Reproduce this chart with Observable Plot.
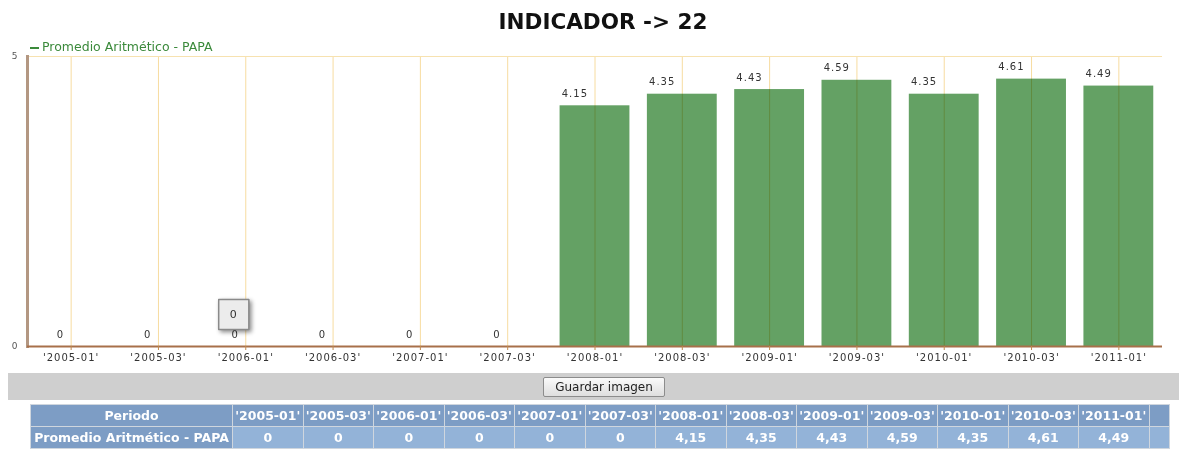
<!DOCTYPE html>
<html>
<head>
<meta charset="utf-8">
<script src="https://cdn.jsdelivr.net/npm/d3@7"></script>
<script src="https://cdn.jsdelivr.net/npm/@observablehq/plot@0.6"></script>
<style>
  html, body { margin: 0; padding: 0; background: #fff; }
  #wrap { position: relative; width: 1179px; height: 451px; overflow: hidden; font-family: "DejaVu Sans", Verdana, sans-serif; }
  #title { position: absolute; top: 9px; left: 603px; transform: translateX(-50%); font-size: 21.5px; font-weight: bold; color: #111; white-space: nowrap; }
  #legend { position: absolute; top: 40px; left: 30px; font-size: 12.5px; color: #3b8a3b; white-space: nowrap; line-height: 14px; }
  #legend .sw { display: inline-block; width: 9px; height: 2px; background: #3b8a3b; vertical-align: middle; margin-right: 3px; }
  #chart { position: absolute; top: 0; left: 0; }
  #bar { position: absolute; top: 373px; left: 8px; width: 1171px; height: 27px; background: #cfcfcf; }
  #btn { position: absolute; top: 377px; left: 543px; width: 120px; height: 18px; border: 1px solid #8c8c8c; border-radius: 2px; background: linear-gradient(#fafafa, #dedede); font-size: 12px; color: #222; text-align: center; line-height: 18px; box-sizing: content-box; }
  #tbl { position: absolute; top: 404px; left: 30px; border-collapse: collapse; table-layout: fixed; }
  #tbl td { height: 21px; padding: 0; border: 1px solid #cfd6de; color: #fff; font-weight: bold; font-size: 12.5px; text-align: center; white-space: nowrap; overflow: hidden; }
  #tbl tr.h td { background: #7d9dc5; }
  #tbl tr.d td { background: #93b3d8; }
  #tbl tr.d td.first { background: #7d9dc5; }
</style>
</head>
<body>
<div id="wrap">
  <div id="title"></div>
  <div id="legend"><span class="sw"></span><span id="legtext"></span></div>
  <div id="chart"></div>
  <div id="bar"></div>
  <div id="btn">Guardar imagen</div>
  <table id="tbl"></table>
</div>
<script>
const chartTitle = "INDICADOR -> 22";
const seriesName = "Promedio Aritmético - PAPA";
const tableHeader = "Periodo";
const periods = ["'2005-01'", "'2005-03'", "'2006-01'", "'2006-03'", "'2007-01'", "'2007-03'", "'2008-01'", "'2008-03'", "'2009-01'", "'2009-03'", "'2010-01'", "'2010-03'", "'2011-01'"];
const values = [0, 0, 0, 0, 0, 0, 4.15, 4.35, 4.43, 4.59, 4.35, 4.61, 4.49];
const yTicks = [0, 5];
const tooltipPeriod = "'2006-01'";

const data = periods.map((p, i) => ({period: p, value: values[i]}));
const tooltipData = data.filter(d => d.period === tooltipPeriod);
const fmt = v => v === 0 ? "0" : v.toFixed(2);

document.getElementById("title").textContent = chartTitle;
document.getElementById("legtext").textContent = seriesName;

const svg = Plot.plot({
  width: 1179,
  height: 372,
  marginTop: 56,
  marginBottom: 26,
  marginLeft: 27,
  marginRight: 17,
  style: {fontFamily: "DejaVu Sans, Verdana, sans-serif", fontSize: "10px", letterSpacing: "1px", background: "transparent", overflow: "visible"},
  x: {domain: periods, paddingInner: 0.2, paddingOuter: 0.1, round: false, label: null, axis: null},
  y: {domain: [0, 5], label: null, axis: null},
  marks: [
    Plot.barY(data, {x: "period", y: "value", fill: "#64a164"}),
    Plot.ruleX(periods, {x: d => d, y1: 0, y2: 5, stroke: "#f7dca0", mixBlendMode: "multiply"}),
    Plot.ruleY([5], {stroke: "#f7e2b0"}),
    Plot.frame({anchor: "left", stroke: "#b39782", strokeWidth: 3}),
    Plot.ruleY([0], {stroke: "#a8704a", strokeWidth: 2}),
    Plot.axisX({tickSize: 4, tickPadding: 3, stroke: "#c08a50", fill: "#333", fontSize: 10}),
    Plot.axisY({ticks: yTicks, tickFormat: d3.format("d"), tickSize: 0, tickPadding: 9, fill: "#555", fontSize: 9}),
    Plot.text(data, {x: "period", y: "value", text: d => fmt(d.value), textAnchor: "end", dx: -7, dy: -12, fill: "#333", fontSize: 10}),
    Plot.dot(tooltipData, {x: "period", y: "value", symbol: "square", r: 17, fill: "#ececec", stroke: "#8a8a8a", strokeWidth: 1.5, strokeLinejoin: "round", dx: -12, dy: -32}),
    Plot.text(tooltipData, {x: "period", y: "value", text: d => fmt(d.value), dx: -12, dy: -32, fill: "#333", fontSize: 11})
  ]
});
document.getElementById("chart").appendChild(svg);
d3.select(svg).selectAll("g[aria-label=dot]").style("filter", "drop-shadow(2px 2px 2px rgba(0,0,0,0.45))");

// table
const tbl = d3.select("#tbl");
const cg = tbl.append("colgroup");
cg.append("col").style("width", "202px");
periods.forEach(() => cg.append("col").style("width", "70.5px"));
cg.append("col").style("width", "20px");
const hr = tbl.append("tr").attr("class", "h");
hr.append("td").text(tableHeader);
periods.forEach(p => hr.append("td").text(p));
hr.append("td").text("");
const dr = tbl.append("tr").attr("class", "d");
dr.append("td").attr("class", "first").text(seriesName);
values.forEach(v => dr.append("td").text(fmt(v).replace(".", ",")));
dr.append("td").text("");
</script>
</body>
</html>
